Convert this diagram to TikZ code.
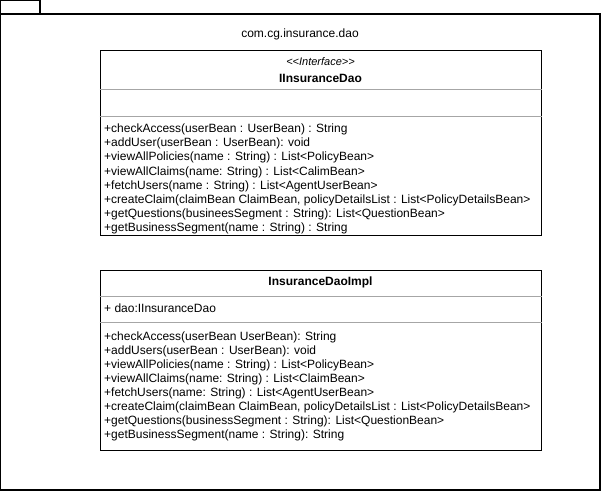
\documentclass[tikz,border=0pt]{standalone}
\usepackage{fontspec}
\setmainfont{Liberation Sans}
\usepackage{tikz}
\usetikzlibrary{positioning}

\begin{document}
\begin{tikzpicture}[x=1pt, y=-1pt,
        pkg/.style={draw=black, line width=1.2pt},
        classbox/.style={rectangle, draw=black, line width=1pt, fill=white, inner sep=0pt, minimum width=441pt},
        sep/.style={draw=black!35, line width=0.8pt},
        member/.style={anchor=base west, inner sep=0pt, font=\fontsize{12}{14}\selectfont},
        title/.style={anchor=base, inner sep=0pt, font=\fontsize{12}{14}\selectfont}
      ]
        \useasboundingbox (0,0) rectangle (601,491);

        % package
        \draw[pkg] (0.6,0.6) rectangle (40,14);
        \draw[pkg] (0.6,14) rectangle (600,490);
        \node[title] (pkglabel) at (300,37.5) {com.cg.insurance.dao};

        % interface
        \node[classbox, minimum height=185pt] (iface) at (320.5,142.5) {};
        \node[title, font=\fontsize{11}{13}\selectfont\itshape] (ifacestereo) at (320.5,65) {<\kern0pt<Interface>\kern0pt>};
        \node[title, font=\fontsize{12}{14}\selectfont\bfseries] (ifacename) at (320.5,82) {IInsuranceDao};
        \draw[sep] (iface.west |- 0,89) -- (iface.east |- 0,89);
        \draw[sep] (iface.west |- 0,116) -- (iface.east |- 0,116);

        \node[member] (im1) at (104,132.5) {+checkAccess(userBean : UserBean) : String};
        \node[member] (im2) at (104,146.7) {+addUser(userBean : UserBean): void};
        \node[member] (im3) at (104,160.9) {+viewAllPolicies(name : String) : List<PolicyBean>};
        \node[member] (im4) at (104,175.1) {+viewAllClaims(name: String) : List<CalimBean>};
        \node[member] (im5) at (104,189.3) {+fetchUsers(name : String) : List<AgentUserBean>};
        \node[member] (im6) at (104,203.5) {+createClaim(claimBean ClaimBean, policyDetailsList : List<PolicyDetailsBean>};
        \node[member] (im7) at (104,217.7) {+getQuestions(busineesSegment : String): List<QuestionBean>};
        \node[member] (im8) at (104,231.9) {+getBusinessSegment(name : String) : String};

        % implementation
        \node[classbox, minimum height=180pt] (impl) at (320.5,360) {};
        \node[title, font=\fontsize{12}{14}\selectfont\bfseries] (implname) at (320.5,285.5) {InsuranceDaoImpl};
        \draw[sep] (impl.west |- 0,296) -- (impl.east |- 0,296);
        \node[member] (ia1) at (104,312.5) {+ dao:IInsuranceDao};
        \draw[sep] (impl.west |- 0,322) -- (impl.east |- 0,322);

        \node[member] (pm1) at (104,340) {+checkAccess(userBean UserBean): String};
        \node[member] (pm2) at (104,354.1) {+addUsers(userBean : UserBean): void};
        \node[member] (pm3) at (104,368.2) {+viewAllPolicies(name : String) : List<PolicyBean>};
        \node[member] (pm4) at (104,382.3) {+viewAllClaims(name: String) : List<ClaimBean>};
        \node[member] (pm5) at (104,396.4) {+fetchUsers(name: String) : List<AgentUserBean>};
        \node[member] (pm6) at (104,410.5) {+createClaim(claimBean ClaimBean, policyDetailsList : List<PolicyDetailsBean>};
        \node[member] (pm7) at (104,424.6) {+getQuestions(businessSegment : String): List<QuestionBean>};
        \node[member] (pm8) at (104,438.7) {+getBusinessSegment(name : String): String};
      \end{tikzpicture}
\end{document}
